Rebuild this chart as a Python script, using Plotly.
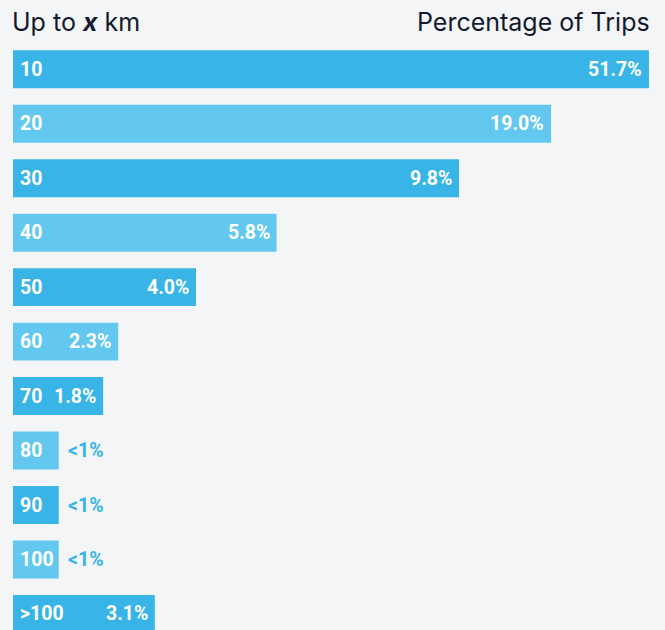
import plotly.graph_objects as go

# ---- data ----
categories = ["10", "20", "30", "40", "50", "60", "70", "80", "90", "100", ">100"]
value_labels = ["51.7%", "19.0%", "9.8%", "5.8%", "4.0%", "2.3%", "1.8%", "<1%", "<1%", "<1%", "3.1%"]
# drawn bar length (in % units; the chart compresses the largest values)
bar_length = [13.9, 11.76, 9.75, 5.76, 4.0, 2.3, 1.97, 1.0, 1.0, 1.0, 3.1]
small_flags = [False, False, False, False, False, False, False, True, True, True, False]

DARK = "#38B5E6"
LIGHT = "#63C8EF"
BG = "#F4F5F7"
TXT = "#121A2D"

n = len(categories)
pos = list(range(n))
colors = [DARK if i % 2 == 0 else LIGHT for i in range(n)]

fig = go.Figure()
fig.add_trace(go.Bar(
    x=bar_length, y=pos, orientation="h",
    marker=dict(color=colors, line=dict(width=0)),
    hoverinfo="skip", showlegend=False,
))

LAB_FAMILY = "Roboto, sans-serif"
LAB_SIZE = 19.5
ann = []
lab_font = dict(family=LAB_FAMILY, size=LAB_SIZE, color="white")
for p, c, L, v, small in zip(pos, categories, bar_length, value_labels, small_flags):
    ann.append(dict(x=0, y=p, xref="x", yref="y", text="<b>%s</b>" % c, showarrow=False,
                    xanchor="left", yanchor="middle", xshift=5, font=lab_font))
    if small:
        ann.append(dict(x=L, y=p, xref="x", yref="y", text="<b>%s</b>" % v, showarrow=False,
                        xanchor="left", yanchor="middle", xshift=7,
                        font=dict(family=LAB_FAMILY, size=LAB_SIZE, color=DARK)))
    else:
        ann.append(dict(x=L, y=p, xref="x", yref="y", text="<b>%s</b>" % v, showarrow=False,
                        xanchor="right", yanchor="middle", xshift=-5, font=lab_font))

ann.append(dict(x=0, y=1, xref="paper", yref="paper", xanchor="left", yanchor="bottom",
                text="Up to <b><i>x</i></b> km", showarrow=False, yshift=3, xshift=-3,
                font=dict(family="Inter", size=25, color=TXT)))
ann.append(dict(x=636 / 652, y=1, xref="paper", yref="paper", xanchor="right", yanchor="bottom",
                text="Percentage of Trips", showarrow=False, yshift=3, xshift=3,
                font=dict(family="Inter", size=25, color=TXT)))

px_per_unit = 45.75
plot_w = 652
fig.update_layout(
    width=657, height=622,
    margin=dict(l=5, r=0, t=33.75, b=0, pad=0),
    paper_bgcolor=BG, plot_bgcolor=BG,
    bargap=0.303,
    xaxis=dict(range=[0, plot_w / px_per_unit], visible=False, fixedrange=True),
    yaxis=dict(range=[10.294, -0.5], visible=False, fixedrange=True),
    annotations=ann,
)

fig.write_html("out.html", post_script="document.body.style.background='%s';" % BG)
